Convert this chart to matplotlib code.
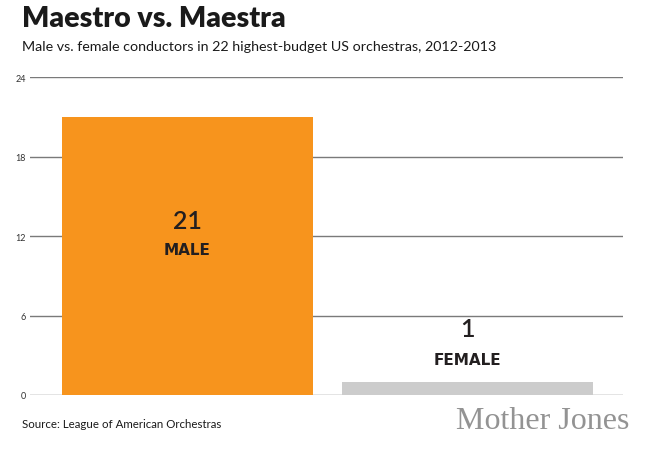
import matplotlib.pyplot as plt

categories = ["MALE", "FEMALE"]
counts = [21, 1]
bar_colors = ["#F7941D", "#CCCCCC"]
yticks = [0, 6, 12, 18, 24]

plt.rcParams['font.family'] = ['Lato', 'DejaVu Sans']

fig = plt.figure(figsize=(6.5, 4.52), dpi=100)
ax = fig.add_axes([30/650, 1-396/452, 593/650, 318/452])

pos = list(range(len(categories)))
bars = ax.bar(pos, counts, width=0.898, color=bar_colors, zorder=2)
ax.set_xlim(-0.5635, 1.558)
ax.set_ylim(0, 24)

ax.set_yticks(yticks)
ax.set_yticklabels([str(t) for t in yticks], fontsize=6.5, color="#333333")
ax.tick_params(axis='y', length=0, pad=3)
ax.set_xticks([])
ax.grid(axis='y', color="#7a7a7a", linewidth=1.0, zorder=1)
for s in ax.spines.values():
    s.set_visible(False)

# value and category labels
label_y = {"MALE": (13.2, 10.95), "FEMALE": (5.0, 2.65)}
for p, c, n in zip(pos, categories, counts):
    vy, cy = label_y[c]
    ax.text(p, vy, str(n), ha='center', va='center', fontsize=18,
            fontweight='semibold', color="#231f20", zorder=3)
    ax.text(p, cy, c, ha='center', va='center', fontsize=11,
            family='DejaVu Sans', fontweight='bold', color="#231f20", zorder=3)

fig.text(22/650, 1-19/452, "Maestro vs. Maestra", fontsize=20.5,
         fontweight='heavy', color="#1a1a1a", va='center', ha='left')
fig.text(22/650, 1-47/452,
         "Male vs. female conductors in 22 highest-budget US orchestras, 2012-2013",
         fontsize=10.3, color="#1a1a1a", va='center', ha='left')
fig.text(22/650, 1-425/452, "Source: League of American Orchestras",
         fontsize=8.3, color="#1a1a1a", va='center', ha='left')
fig.text(629/650, 1-422/452, "Mother Jones", fontsize=23,
         family='Liberation Serif', color="#939393", va='center', ha='right')

fig.savefig("out.png", dpi=100)
